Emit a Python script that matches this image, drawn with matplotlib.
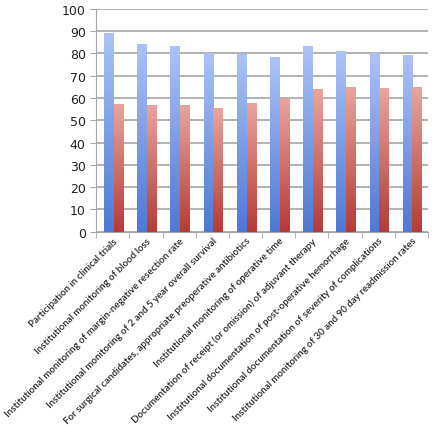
import numpy as np
import matplotlib
matplotlib.use("Agg")
import matplotlib.pyplot as plt
from matplotlib.colors import LinearSegmentedColormap

categories = [
    "Participation in clinical trials",
    "Institutional monitoring of blood loss",
    "Institutional monitoring of margin-negative resection rate",
    "Institutional monitoring of 2 and 5 year overall survival",
    "For surgical candidates, appropriate preoperative antibiotics",
    "Institutional monitoring of operative time",
    "Documentation of receipt (or omission) of adjuvant therapy",
    "Institutional documentation of post-operative hemorrhage",
    "Institutional documentation of severity of complications",
    "Institutional monitoring of 30 and 90 day readmission rates",
]
blue_vals = [89.3, 84.4, 83.1, 80.4, 79.8, 78.6, 83.5, 80.9, 80.0, 79.2]
red_vals = [57.3, 57.0, 56.7, 55.3, 57.6, 60.0, 64.1, 64.9, 64.4, 64.8]

blue_cmap = LinearSegmentedColormap.from_list("b", ["#4e78d2", "#adc3f7"])
red_cmap = LinearSegmentedColormap.from_list("r", ["#b53b35", "#eaa49e"])

fig = plt.figure(figsize=(4.45, 4.27), dpi=100)
ax = fig.add_axes([0.216, 0.455, 0.746, 0.522])

x = np.arange(len(categories))
w = 0.29
grad = np.linspace(0, 1, 256).reshape(-1, 1)


def gradient_bars(bars, cmap):
    for b in bars:
        x0, y0 = b.get_x(), b.get_y()
        x1, y1 = x0 + b.get_width(), y0 + b.get_height()
        im = ax.imshow(grad, cmap=cmap, origin="lower", aspect="auto",
                       extent=[x0, x1, y0, y1], zorder=3)
        im.set_clip_path(b)
        b.set_facecolor("none")


gradient_bars(ax.bar(x - w / 2 + 0.03, blue_vals, w, zorder=3, linewidth=0), blue_cmap)
gradient_bars(ax.bar(x + w / 2 + 0.03, red_vals, w, zorder=3, linewidth=0), red_cmap)

ax.set_xlim(-0.5, len(categories) - 0.5)
ax.set_ylim(0, 100)
ax.set_yticks(range(0, 101, 10))
ax.yaxis.grid(True, color="#a6a6a6", linewidth=1.2)
ax.set_axisbelow(True)
for s in ["top", "right"]:
    ax.spines[s].set_visible(False)
ax.spines["left"].set_color("#a6a6a6")
ax.spines["bottom"].set_color("#a6a6a6")
ax.tick_params(axis="y", colors="#a6a6a6", labelcolor="#222222", labelsize=9, length=4)

ax.set_xticks(np.arange(-0.5, len(categories), 1), minor=True)
ax.set_xticks(x)
ax.set_xticklabels(categories, rotation=45, ha="right", rotation_mode="anchor",
                   fontsize=7.0, color="#222222", family="Lato", weight="semibold")
ax.tick_params(axis="x", which="major", length=0, pad=3)
ax.tick_params(axis="x", which="minor", length=4, color="#a6a6a6")

fig.savefig("out.png", dpi=100)
